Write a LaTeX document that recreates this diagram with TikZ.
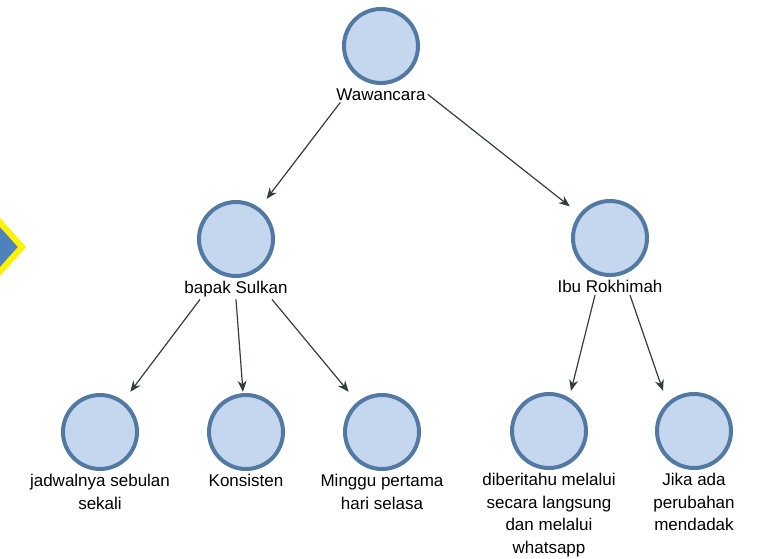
\documentclass[tikz,border=0pt]{standalone}
\usepackage{fontspec}
\setmainfont{Liberation Sans}
\usetikzlibrary{arrows.meta,positioning}

\definecolor{isibulat}{RGB}{197,215,238}
\definecolor{garisbulat}{RGB}{82,121,163}
\definecolor{panah}{RGB}{50,62,62}
\definecolor{birupanah}{RGB}{79,129,189}

\begin{document}
\begin{tikzpicture}[x=1pt,y=-1pt,>={Stealth[length=11pt,width=9pt]},
  every edge/.style={draw,->,panah,line width=1.2pt},
  bulat/.style={rectangle,inner sep=0pt,minimum size=80pt,
    path picture={\filldraw[fill=isibulat,draw=garisbulat,line width=4pt]
      (path picture bounding box.center) circle (37pt);}},
  ket/.style={align=center,inner sep=2pt,
    font=\fontsize{17}{22.5}\selectfont}]

  \useasboundingbox (0,0) rectangle (758,559);

  % panah biru di tepi kiri
  \begin{scope}
    \clip (0,0) rectangle (758,559);
    \filldraw[fill=birupanah,draw=yellow,line width=6pt,miter limit=10]
      (-40,178) -- (22,247) -- (-40,316) -- cycle;
  \end{scope}

  \node[bulat] (waw) at (381,46) {};
  \node[bulat] (sulkan) at (236,239) {};
  \node[bulat] (ibu) at (610,238) {};
  \node[bulat] (c1) at (100,432) {};
  \node[bulat] (c2) at (246,432) {};
  \node[bulat] (c3) at (382,432) {};
  \node[bulat] (c4) at (549,431) {};
  \node[bulat] (c5) at (694,431) {};

  \node[ket,below=0pt of waw] (lWaw) {Wawancara};
  \node[ket,below=0pt of sulkan] (lSul) {bapak Sulkan};
  \node[ket,below=0pt of ibu] (lIbu) {Ibu Rokhimah};
  \node[ket,below=0pt of c1] (l1) {jadwalnya sebulan\\sekali};
  \node[ket,below=0pt of c2] (l2) {Konsisten};
  \node[ket,below=0pt of c3] (l3) {Minggu pertama\\hari selasa};
  \node[ket,below=0pt of c4] (l4) {diberitahu melalui\\secara langsung\\dan melalui\\whatsapp};
  \node[ket,below=0pt of c5] (l5) {Jika ada\\perubahan\\mendadak};

  \path ([xshift=6pt]lWaw.south west) edge (sulkan)
        (lWaw.east) edge (ibu)
        ([xshift=-36pt]lSul.south) edge (c1)
        (lSul.south) edge (c2)
        ([xshift=36pt]lSul.south) edge (c3)
        ([xshift=-15pt]lIbu.south) edge ([xshift=22pt]c4.north)
        ([xshift=20pt]lIbu.south) edge ([xshift=-31pt]c5.north);
\end{tikzpicture}
\end{document}
